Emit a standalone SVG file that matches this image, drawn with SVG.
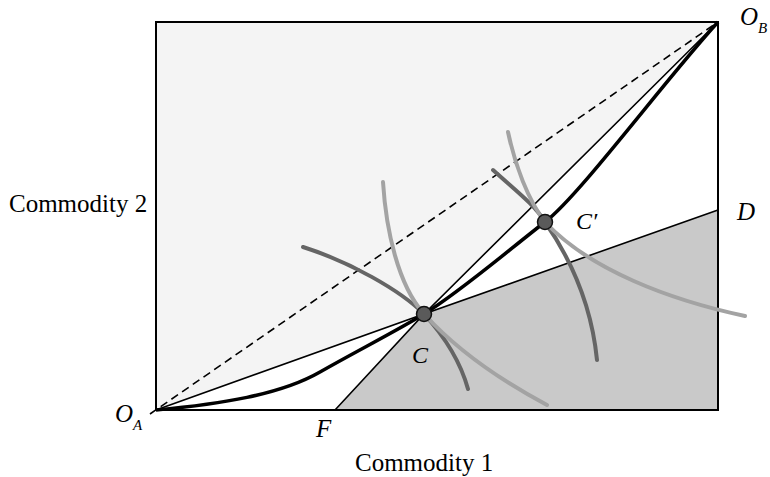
<svg xmlns="http://www.w3.org/2000/svg" width="770" height="477" viewBox="0 0 770 477">
<style>
.lbl{font-family:"Liberation Serif","Times New Roman",serif;fill:#000}
.it{font-style:italic}
.thin{fill:none;stroke:#000;stroke-width:1.6}
.icl{fill:none;stroke:#a3a3a3;stroke-width:4;stroke-linecap:round}
.icd{fill:none;stroke:#656565;stroke-width:4;stroke-linecap:round}
.pt{fill:#5a5a5a;stroke:#111;stroke-width:1.5}
</style>
<rect width="770" height="477" fill="#fff"/>
<g id="regions">
<polygon points="156,22 718,22 424,314 156,410" fill="#f4f4f4"/>
<polygon points="335,410 424,314 718,210 718,410" fill="#c9c9c9"/>
</g>
<g id="box">
<rect x="156" y="22" width="562" height="388" fill="none" stroke="#000" stroke-width="2"/>
</g>
<g id="connectors">
<line x1="150" y1="414" x2="718" y2="22" stroke="#000" stroke-width="1.6" stroke-dasharray="8,5"/>
<polyline class="thin" points="156,410 424,314 718,22"/>
<polyline class="thin" points="335,410 424,314 718,210"/>
<path d="M156,410 C220,404 280,395 320,372 C355,352 400,329 424,314 C460,292 510,249 545,222 C580,195 665,80 718,22" fill="none" stroke="#000" stroke-width="3.5"/>
<path class="icd" d="M303,247 C350,262 400,290 424,314 C445,337 460,360 468,389"/>
<path class="icl" d="M383,182 C386,230 398,285 424,314 C455,348 500,380 547,405"/>
<path class="icd" d="M493,170 C515,190 535,205 545,222 C575,265 592,310 597,360"/>
<path class="icl" d="M508,132 C515,165 528,200 545,222 C590,270 670,300 745,316"/>
</g>
<g id="node-C">
<circle class="pt" cx="424" cy="314" r="7.5"/>
<text class="lbl it" x="412" y="363" font-size="24">C</text>
</g>
<g id="node-Cprime">
<circle class="pt" cx="545" cy="222" r="7.5"/>
<text class="lbl it" x="576" y="229" font-size="24">C′</text>
</g>
<g id="node-OA">
<text class="lbl it" x="115" y="422" font-size="25">O<tspan font-size="15" dy="8">A</tspan></text>
</g>
<g id="node-OB">
<text class="lbl it" x="740" y="25" font-size="25">O<tspan font-size="15" dy="8">B</tspan></text>
</g>
<g id="node-D">
<text class="lbl it" x="737" y="220" font-size="25">D</text>
</g>
<g id="node-F">
<text class="lbl it" x="316" y="437" font-size="25">F</text>
</g>
<g id="axis-labels">
<text class="lbl" x="9" y="212" font-size="25">Commodity 2</text>
<text class="lbl" x="355" y="471" font-size="25">Commodity 1</text>
</g>
</svg>
